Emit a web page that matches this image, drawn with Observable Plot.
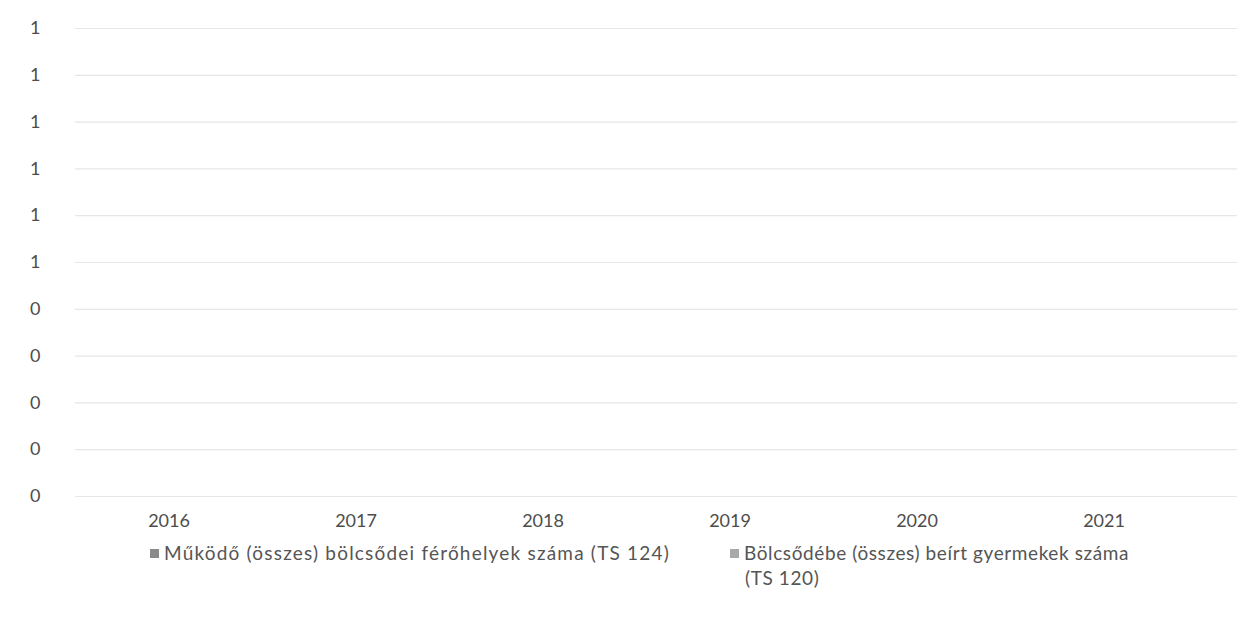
<!DOCTYPE html>
<html>
<head>
<meta charset="utf-8">
<script src="https://cdn.jsdelivr.net/npm/d3@7"></script>
<script src="https://cdn.jsdelivr.net/npm/@observablehq/plot@0.6"></script>
<style>
  html, body { margin: 0; padding: 0; background: #fff; }
  body { width: 1252px; height: 625px; overflow: hidden; font-family: Lato, "Open Sans", sans-serif; }
  #chart { position: absolute; left: 0; top: 0; }
  .legend { position: absolute; top: 540px; font-size: 19px; color: #555; line-height: 25px; letter-spacing: 1.2px; padding-left: 15px; text-indent: -15px; }
  .legend .sw { display: inline-block; width: 9px; height: 9px; margin-right: 5px; vertical-align: 2px; }
</style>
</head>
<body>
<div id="chart"></div>
<div class="legend" id="leg1" style="left:150px;"></div>
<div class="legend" id="leg2" style="left:730px; width:410px; letter-spacing:0.6px;"></div>
<script>
const years = ["2016", "2017", "2018", "2019", "2020", "2021"];
const seriesNames = [
  "Működő (összes) bölcsődei férőhelyek száma (TS 124)",
  "Bölcsődébe (összes) beírt gyermekek száma (TS 120)"
];
const ferohelyek = [0, 0, 0, 0, 0, 0];
const beirt = [0, 0, 0, 0, 0, 0];
const yTicks = [0, 0.1, 0.2, 0.3, 0.4, 0.5, 0.6, 0.7, 0.8, 0.9, 1.0];
const yTickLabels = ["0", "0", "0", "0", "0", "1", "1", "1", "1", "1", "1"];
const colors = ["#8a8a8a", "#a9a9a9"];

const data = [];
years.forEach((y, i) => {
  data.push({year: y, series: seriesNames[0], value: ferohelyek[i]});
  data.push({year: y, series: seriesNames[1], value: beirt[i]});
});

const yFmt = (d) => yTickLabels[yTicks.findIndex(t => Math.abs(t - d) < 1e-9)];

const chart = Plot.plot({
  width: 1252,
  height: 541,
  marginLeft: 75,
  marginRight: 15,
  marginTop: 28,
  marginBottom: 45,
  style: {fontFamily: "Lato, 'Open Sans', sans-serif", fontSize: "18px", color: "#4d4d4d", background: "#fff"},
  x: {domain: years, range: [75, 1197], label: null, paddingInner: 0.3, paddingOuter: 0.15},
  y: {domain: [0, 1], label: null},
  color: {domain: seriesNames, range: colors},
  marks: [
    Plot.ruleY(yTicks, {stroke: "#e6e6e6", strokeWidth: 1.2}),
    Plot.barY(data, {x: "year", y: "value", fill: "series"}),
    Plot.axisX({tickSize: 0, tickPadding: 18, fontSize: 18, label: null}),
    Plot.axisY({ticks: yTicks, tickSize: 0, tickPadding: 35, fontSize: 18, tickFormat: yFmt, label: null})
  ]
});
document.getElementById("chart").appendChild(chart);

function legendItem(el, i) {
  el.innerHTML = '<span class="sw" style="background:' + colors[i] + '"></span>' + seriesNames[i];
}
legendItem(document.getElementById("leg1"), 0);
legendItem(document.getElementById("leg2"), 1);
</script>
</body>
</html>
